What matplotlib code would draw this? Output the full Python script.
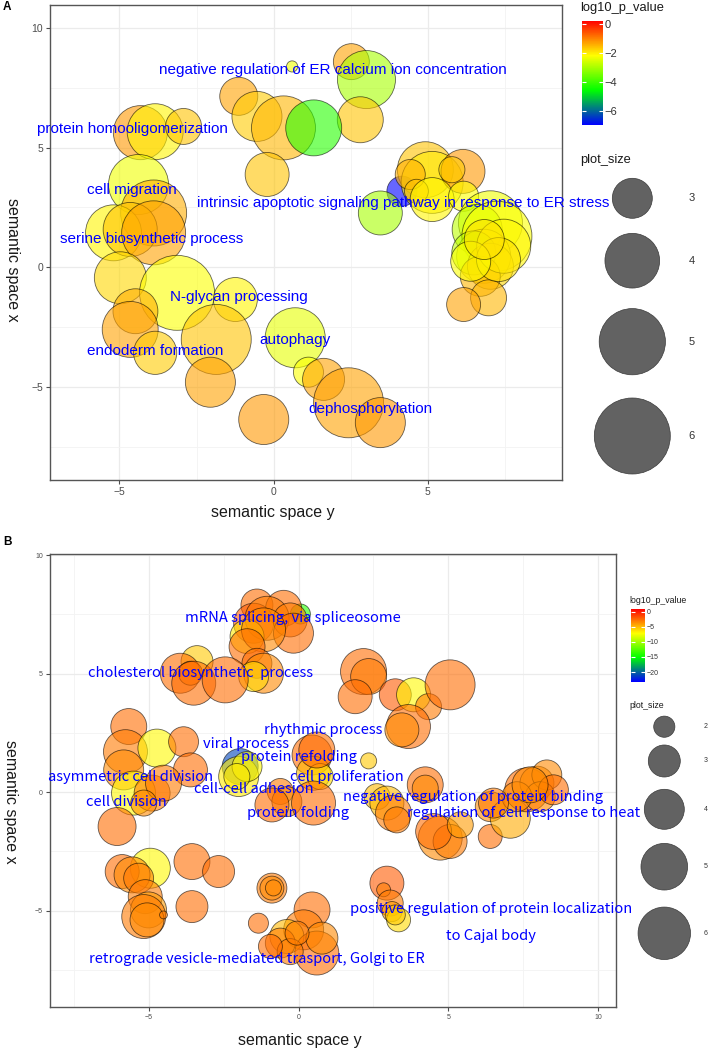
import numpy as np
import matplotlib
matplotlib.use("Agg")
import matplotlib.pyplot as plt
from matplotlib.colors import LinearSegmentedColormap, Normalize
from matplotlib.cm import ScalarMappable

plt.rcParams['font.family'] = ['Liberation Sans', 'DejaVu Sans']

# ---------------- Panel A data ----------------
a_space_y = [0.60, 2.52, 3.01, 2.81, -1.13, -0.54, 0.32, 1.30, -0.21, -4.32, -3.84, -2.92,
             -4.38, -3.89, -5.19, -4.65, -3.89, -4.97, -3.13, -1.24, -4.48, -4.65, -3.84,
             -1.86, -2.05, 0.70, 1.13, 1.62, 2.43, -0.32, 3.46,
             4.16, 3.46, 4.92, 5.14, 4.43, 4.63, 6.14, 5.78, 5.14, 6.16,
             7.03, 6.60, 7.24, 6.81, 6.49, 7.03, 6.70, 6.97, 6.16, 7.46, 7.29, 6.39, 6.83]
a_space_x = [8.40, 8.60, 7.85, 6.17, 7.15, 6.31, 5.83, 5.83, 3.88, 5.63, 5.67, 5.89,
             3.46, 2.27, 1.44, 1.58, 1.44, -0.44, -1.07, -1.35, -1.84, -2.60, -3.58,
             -3.02, -4.81, -2.95, -4.39, -4.69, -5.67, -6.37, -6.50,
             3.18, 2.27, 4.08, 3.55, 3.88, 3.18, 4.01, 4.08, 2.83, 2.97,
             1.86, 1.58, 1.30, 0.46, 0.60, 0.04, -0.38, -1.28, -1.56, 0.88, 0.32, 0.25, 1.16]
a_plot_size = [1.94, 2.78, 4.27, 3.37, 2.89, 3.65, 4.79, 4.10, 3.24, 3.95, 4.10, 2.78,
               4.44, 4.98, 4.10, 3.95, 4.79, 3.79, 5.89, 3.24, 3.30, 4.10, 3.19,
               5.37, 3.65, 4.44, 2.50, 3.12, 5.37, 3.65, 3.65,
               2.50, 3.24, 4.10, 4.61, 2.50, 2.26, 3.24, 2.34, 3.24, 2.50,
               4.79, 3.65, 5.37, 3.95, 3.24, 3.37, 3.00, 2.78, 2.68, 3.95, 3.24, 3.00, 3.00]
a_log10_p = [-2.3, -1.3, -3.0, -1.6, -1.3, -1.7, -1.5, -4.2, -1.6, -1.2, -2.1, -1.6,
             -2.3, -1.4, -2.1, -1.6, -1.3, -1.8, -2.2, -2.1, -1.4, -1.3, -1.7,
             -1.6, -1.3, -2.4, -2.2, -1.3, -1.3, -1.2, -1.2,
             -7.0, -3.0, -1.6, -2.0, -1.4, -1.6, -1.2, -1.7, -2.1, -2.2,
             -2.3, -2.8, -2.2, -2.1, -2.8, -1.8, -1.5, -1.5, -1.3, -2.1, -1.9, -2.2, -1.9]
a_labels = ["negative regulation of ER calcium ion concentration", "protein homooligomerization",
            "cell migration", "intrinsic apoptotic signaling pathway in response to ER stress",
            "serine biosynthetic process", "N-glycan processing", "autophagy",
            "endoderm formation", "dephosphorylation"]
a_label_y = [1.91, -4.58, -4.61, 4.21, -3.94, -1.13, 0.68, -3.85, 3.14]
a_label_x = [8.24, 5.79, 3.25, 2.69, 1.19, -1.24, -3.05, -3.51, -5.95]
a_size_legend = [3, 4, 5, 6]
a_cbar_ticks = [0, -2, -4, -6]

# ---------------- Panel B data ----------------
b_space_y = [0.06, -1.39, -0.50, -1.50, -1.05, -0.28, -0.17, -1.72, -1.17, -1.72, -1.39, -1.17, -1.50,
             -3.39, -3.95, -3.61, -3.50, -2.45,
             2.17, 2.34, 1.89, 3.23, 3.84, 4.34, 5.06, 3.67, 3.45, 2.34,
             -5.67, -5.78, -5.84, -4.73, -3.84, -3.61, -5.51, -4.89, -4.51, -6.06, -5.17,
             -1.95, -2.00, -1.72, 0.45, 0.50, 0.72, -0.61, -0.39, 0.50, -0.89, -2.06, 0.61,
             -3.56, -2.67, -4.95, -5.89, -5.56, -5.34, -5.12, -5.01, -5.17, -5.06, -3.56, -4.51,
             -0.89, -0.89, -0.84, -1.34, 0.45, 0.17, -0.39, -0.61, 0.61, 0.78, -0.28, -0.94, -0.05,
             4.23, 4.23, 2.62, 2.95, 3.17, 3.28, 4.73, 5.06, 4.51, 5.40, 6.40, 6.40, 7.07,
             7.62, 7.96, 8.29, 8.07, 8.51, 7.29, 6.51, 2.95, 2.84, 3.06, 3.12, 3.34, 3.23, 7.73]
b_space_x = [7.52, 7.90, 7.76, 7.13, 7.34, 7.27, 6.71, 6.57, 6.85, 6.14, 5.44, 5.02, 4.88,
             5.51, 5.02, 5.02, 4.60, 4.74,
             5.09, 4.88, 4.03, 4.11, 4.11, 3.61, 4.53, 2.77, 2.63, 1.32,
             2.77, 1.71, 0.94, 1.86, 2.13, 0.94, -0.04, -0.04, 0.38, -1.45, -0.46,
             1.08, 0.66, 1.08, 1.57, 0.80, 0.66, 0.03, -0.40, -0.46, -0.54, 0.66, 1.78,
             -2.93, -3.35, -3.21, -3.35, -3.49, -3.63, -4.41, -4.97, -5.25, -5.39, -4.83, -5.18,
             -4.05, -4.05, -4.04, -5.53, -4.97, -5.81, -6.09, -6.37, -6.79, -6.16, -6.73, -6.51, -5.95,
             0.31, 0.17, -0.19, -0.46, -0.89, -1.17, -1.94, -2.08, -1.66, -1.38, -1.87, -0.61, -1.10,
             0.10, 0.38, 0.73, -0.19, 0.10, -0.19, -0.46, -3.84, -4.12, -4.68, -5.04, -5.39, -5.18, 0.31]
b_plot_size = [1.92, 3.00, 3.47, 4.00, 4.58, 3.23, 4.00, 3.23, 4.58, 3.47, 2.78, 4.00, 2.78,
               3.00, 4.00, 2.22, 4.58, 4.90,
               4.90, 3.47, 3.23, 3.00, 3.23, 2.40, 5.56, 4.58, 3.23, 1.67,
               3.47, 4.58, 4.00, 3.73, 2.78, 3.23, 4.58, 3.47, 3.47, 3.73, 2.40,
               3.47, 4.00, 2.78, 4.00, 3.23, 2.40, 2.40, 2.78, 4.58, 3.23, 2.40, 3.47,
               3.47, 3.00, 4.00, 3.23, 3.47, 2.78, 3.23, 3.47, 4.58, 3.23, 3.00, 1.33,
               2.78, 2.22, 1.67, 1.92, 3.47, 4.00, 3.23, 2.78, 4.58, 3.00, 2.40, 2.22, 2.22,
               3.47, 2.40, 2.40, 3.23, 3.47, 2.40, 4.58, 3.23, 3.47, 2.40, 2.22, 2.78, 4.00,
               4.58, 3.23, 2.78, 2.78, 2.78, 2.78, 2.78, 3.23, 1.56, 2.40, 1.92, 2.22, 1.92, 3.47]
b_log10_p = [-14.0, -2.5, -2.5, -2.0, -3.0, -3.0, -2.5, -6.5, -3.5, -2.5, -2.5, -3.5, -6.0,
             -5.5, -2.5, -3.0, -2.5, -2.5,
             -2.5, -3.0, -2.5, -2.0, -7.0, -3.0, -2.5, -2.5, -3.5, -5.5,
             -2.5, -3.0, -3.5, -7.0, -2.5, -2.5, -7.0, -3.0, -3.0, -2.5, -3.5,
             -21.0, -6.5, -7.0, -2.5, -5.0, -6.0, -3.0, -3.5, -2.5, -2.5, -6.5, -2.5,
             -2.5, -2.5, -7.0, -2.5, -3.5, -3.0, -3.0, -4.0, -3.0, -3.5, -2.5, -3.0,
             -3.0, -3.5, -3.5, -2.5, -2.5, -3.0, -5.0, -3.0, -2.5, -3.5, -3.0, -2.5, -3.0,
             -2.5, -3.5, -5.0, -5.0, -3.0, -3.0, -3.5, -3.0, -2.5, -4.0, -2.5, -3.5, -4.5,
             -2.5, -3.5, -3.5, -3.5, -2.5, -3.5, -3.0, -2.0, -3.0, -3.0, -4.0, -6.0, -5.5, -3.5]
b_labels = ["mRNA splicing, via spliceosome", "cholesterol biosynthetic  process", "rhythmic process",
            "viral process", "protein refolding", "cell proliferation", "asymmetric cell division",
            "cell-cell adhesion", "cell division", "protein folding",
            "negative regulation of protein binding", "regulation of cell response to heat",
            "positive regulation of protein localization", "to Cajal body",
            "retrograde vesicle-mediated trasport, Golgi to ER"]
b_label_y = [-0.19, -3.29, 0.81, -1.75, 0.02, 1.62, -5.62, -1.49, -5.74, -0.03, 5.84, 7.51, 6.43, 6.43, -1.39]
b_label_x = [7.34, 5.05, 2.63, 2.04, 1.48, 0.66, 0.66, 0.13, -0.40, -0.89, -0.21, -0.89, -4.94, -6.06, -7.05]
b_size_legend = [2, 3, 4, 5, 6]
b_cbar_ticks = [0, -5, -10, -15, -20]

# ---------------- figure ----------------
W, H = 709, 1050
DPI = 100
fig = plt.figure(figsize=(W / DPI, H / DPI), dpi=DPI)
cmap = LinearSegmentedColormap.from_list('revigo', ['#0000FF', '#00FF00', '#FFFF00', '#FF0000'])


def px_rect(x0, y0, x1, y1):
    return [x0 / W, 1 - y1 / H, (x1 - x0) / W, (y1 - y0) / H]


def area_a(v):
    r2 = np.maximum(348.0 * np.asarray(v, float) - 644.0, 4.0)
    return (2 * 0.72 * np.sqrt(r2)) ** 2


def area_b(v):
    r2 = np.maximum(144.0 * np.asarray(v, float) - 176.0, 4.0)
    return (2 * 0.72 * np.sqrt(r2)) ** 2


def style_axes(ax, xlim, ylim, xt, yt, tfs):
    ax.set_xticks(xt)
    ax.set_yticks(yt)
    ax.set_xticks([t + 2.5 for t in [-10, -5, 0, 5, 10]], minor=True)
    ax.set_yticks([t + 2.5 for t in [-10, -5, 0, 5, 10]], minor=True)
    ax.set_xlim(*xlim)
    ax.set_ylim(*ylim)
    ax.grid(True, which='major', color='#EBEBEB', lw=0.9)
    ax.grid(True, which='minor', color='#F3F3F3', lw=0.6)
    ax.set_axisbelow(True)
    ax.tick_params(which='minor', length=0)
    ax.tick_params(which='major', length=3, color='#4D4D4D', labelsize=tfs, labelcolor='#4D4D4D', pad=2)
    for s in ax.spines.values():
        s.set_color('#555555')
        s.set_linewidth(1.0)


# Panel A
axA = fig.add_axes(px_rect(50, 5, 562, 480))
normA = Normalize(vmin=-7.0, vmax=0.25)
axA.scatter(a_space_y, a_space_x, s=area_a(a_plot_size), c=a_log10_p, cmap=cmap, norm=normA,
            alpha=0.6, edgecolors=(0, 0, 0, 0.6), linewidths=0.6, zorder=2)
style_axes(axA, (-7.25, 9.35), (-8.9, 10.97), [-5, 0, 5], [-5, 0, 5, 10], 7.5)
for lab, x, y in zip(a_labels, a_label_y, a_label_x):
    axA.text(x, y, lab, color='#0000FF', fontsize=11, ha='center', va='center', zorder=5)

# Panel B
axB = fig.add_axes(px_rect(50, 554.3, 616, 1007.3))
normB = Normalize(vmin=-23.2, vmax=0.9)
axB.scatter(b_space_y, b_space_x, s=area_b(b_plot_size), c=b_log10_p, cmap=cmap, norm=normB,
            alpha=0.6, edgecolors=(0, 0, 0, 0.6), linewidths=0.6, zorder=2)
style_axes(axB, (-8.3, 10.6), (-9.08, 10.04), [-5, 0, 5, 10], [-5, 0, 5, 10], 5)
for lab, x, y in zip(b_labels, b_label_y, b_label_x):
    axB.text(x, y, lab, color='#0000FF', fontsize=10.6, ha='center', va='center', zorder=5,
             family=['Noto Sans CJK SC', 'DejaVu Sans'], fontweight='medium')

# overlay for free text & size legends
ov = fig.add_axes([0, 0, 1, 1], zorder=10)
ov.set_xlim(0, W)
ov.set_ylim(H, 0)
ov.axis('off')

ov.text(7, 7, 'A', fontsize=8.5, fontweight='bold', ha='center', va='center')
ov.text(7, 542, 'B', fontsize=8.5, fontweight='bold', ha='center', va='center')
ov.text(273, 513, 'semantic space y', fontsize=11.5, ha='center', va='center', color='#1a1a1a')
ov.text(12, 260, 'semantic space x', fontsize=11.5, ha='center', va='center', rotation=270, color='#1a1a1a')
ov.text(300, 1041, 'semantic space y', fontsize=11.5, ha='center', va='center', color='#1a1a1a')
ov.text(10, 802, 'semantic space x', fontsize=11.5, ha='center', va='center', rotation=270, color='#1a1a1a')

# Colorbars
def colorbar(rect, norm, ticks, fs, title, title_xy, tfs):
    cax = fig.add_axes(rect)
    cb = fig.colorbar(ScalarMappable(norm=norm, cmap=cmap), cax=cax, ticks=ticks)
    cb.outline.set_visible(False)
    cax.tick_params(axis='y', which='both', direction='in', color='white', length=3, width=0.8,
                    left=True, right=True, labelleft=False, labelright=True, labelsize=fs,
                    labelcolor='#333333', pad=1.5)
    ov.text(title_xy[0], title_xy[1], title, fontsize=tfs, ha='left', va='center', color='#1a1a1a')
    return cb

colorbar(px_rect(581.7, 20.7, 602.7, 125), normA, a_cbar_ticks, 8, 'log10_p_value', (580, 8), 9.3)
colorbar(px_rect(631, 609, 645, 681.7), normB, b_cbar_ticks, 5, 'log10_p_value', (629.5, 600.5), 6.3)

# size legends
ov.text(580, 160, 'plot_size', fontsize=9.3, ha='left', va='center', color='#1a1a1a')
a_leg_cy = [198.3, 260.7, 341.7, 436]
ov.scatter([632.3] * 4, a_leg_cy, s=area_a(a_size_legend), c='#626262', edgecolors='#3a3a3a', linewidths=0.5)
for v, cy in zip(a_size_legend, a_leg_cy):
    ov.text(691.7, cy, str(v), fontsize=8, ha='center', va='center', color='#333333')

ov.text(629.5, 706, 'plot_size', fontsize=6.3, ha='left', va='center', color='#1a1a1a')
b_leg_cy = [726.7, 761, 809.3, 866.7, 933.3]
ov.scatter([664.3] * 5, b_leg_cy, s=area_b(b_size_legend), c='#626262', edgecolors='#3a3a3a', linewidths=0.5)
for v, cy in zip(b_size_legend, b_leg_cy):
    ov.text(704, cy, str(v), fontsize=5, ha='left', va='center', color='#333333')

fig.savefig('out.png', dpi=DPI)
